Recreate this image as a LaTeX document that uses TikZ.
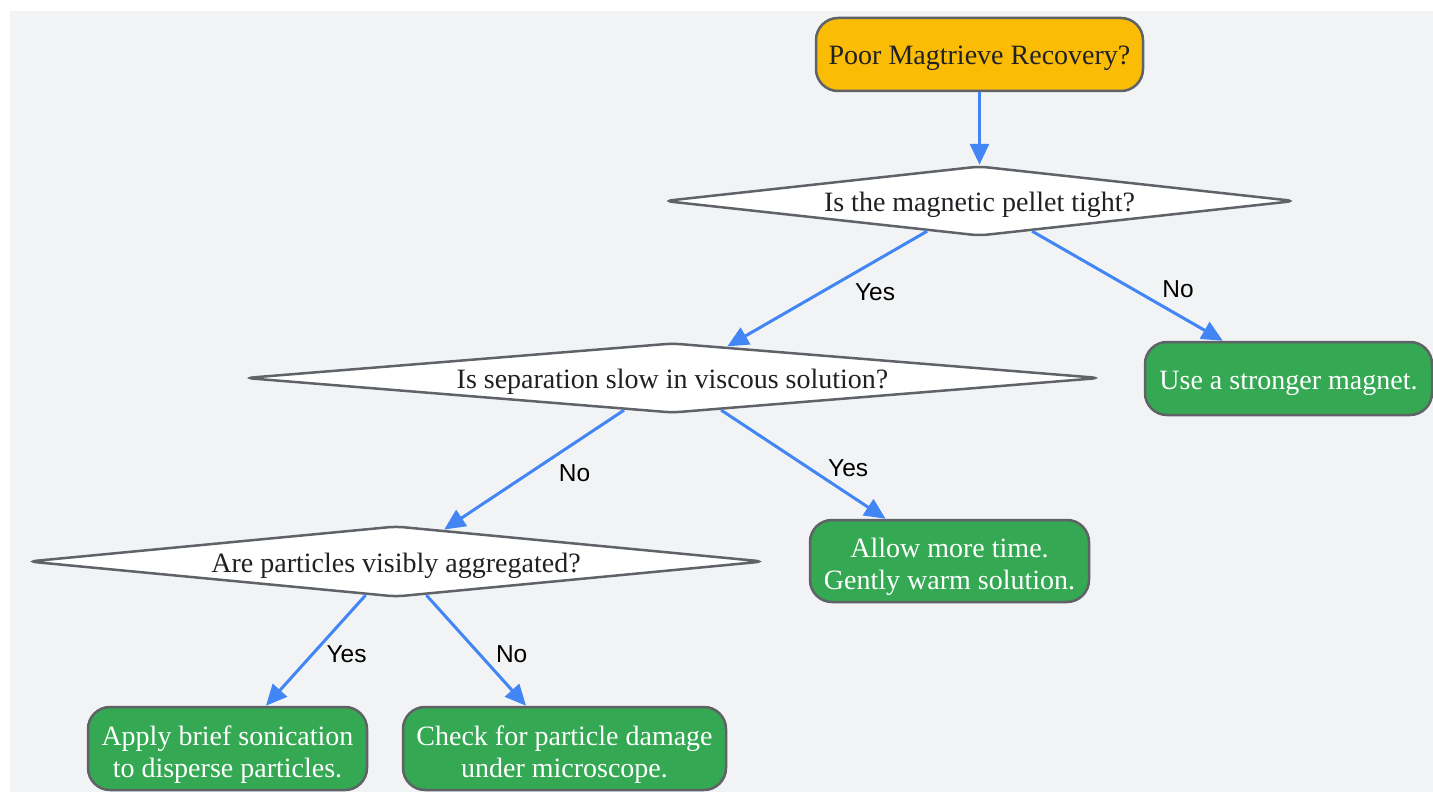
\documentclass[tikz,border=0pt]{standalone}
\usepackage{fontspec}
\setmainfont{Liberation Serif}
\setsansfont{Liberation Sans}
\usepackage{xcolor}
\usepackage{tikz}
\usetikzlibrary{arrows.meta}
\usetikzlibrary{shapes,arrows}
\definecolor{bggray}{HTML}{F1F3F4}
\definecolor{startyellow}{HTML}{FBBC05}
\definecolor{okgreen}{HTML}{34A853}
\definecolor{edgeblue}{HTML}{4285F4}
\definecolor{bordergray}{HTML}{5F6368}
\definecolor{textdark}{HTML}{202124}
\tikzstyle{oneline} = [text height=21pt, text depth=0pt]
\tikzstyle{twoline} = [text height=57pt, text depth=0pt]
\tikzstyle{startbox} = [rectangle, rounded corners=22pt, draw=bordergray, line width=2.5pt, fill=startyellow, text=textdark, font=\fontsize{28}{32}\selectfont, minimum height=73pt, oneline]
\tikzstyle{question} = [diamond, rounded corners=8pt, draw=bordergray, line width=2.5pt, fill=white, text=textdark, font=\fontsize{28}{32}\selectfont, inner sep=0pt, minimum height=70pt, oneline]
\tikzstyle{fixbox} = [rectangle, rounded corners=22pt, draw=bordergray, line width=2.5pt, fill=okgreen, text=white, font=\fontsize{28}{32}\selectfont, align=center]
\tikzstyle{flowarrow} = [line width=3pt, draw=edgeblue, -{Triangle[length=21pt,width=19pt]}]
\tikzstyle{answer} = [midway, text=black, font=\sffamily\fontsize{24.5}{28}\selectfont, text height=17pt, text depth=5pt, yshift=-6pt]

\begin{document}
\begin{tikzpicture}[x=1pt, y=-1pt]
    \useasboundingbox (0,0) rectangle (1433,792);
    \fill[bggray] (10,11) rectangle (1433,792);

    \node[startbox, minimum width=327pt] (poor) at (979.5,54.5) {Poor Magtrieve Recovery?};
    \node[question, aspect=8.9, minimum width=631pt] (pellet) at (979.5,201) {Is the magnetic pellet tight?};
    \node[question, aspect=12.1, minimum width=855pt] (viscous) at (672.5,378) {Is separation slow in viscous solution?};
    \node[question, aspect=10.25, minimum width=736pt, minimum height=71pt] (aggregated) at (396,561.5) {Are particles visibly aggregated?};

    % the fixes
    \node[fixbox, oneline, minimum width=287pt, minimum height=73pt] (magnet) at (1288.5,378.5) {Use a stronger magnet.};
    \node[fixbox, twoline, minimum width=279pt, minimum height=82pt] (warm) at (949.5,561) {Allow more time.\\Gently warm solution.};
    \node[fixbox, twoline, minimum width=279pt, minimum height=83pt] (sonicate) at (227.5,748.5) {Apply brief sonication\\to disperse particles.};
    \node[fixbox, twoline, minimum width=323pt, minimum height=83pt] (damage) at (564.5,748.5) {Check for particle damage\\under microscope.};

    \draw[flowarrow] (poor) -- (pellet);
    \draw[flowarrow] (pellet) -- node[answer, right=23pt] {Yes} (viscous);
    \draw[flowarrow] (pellet) -- node[answer, right=30pt] {No} (magnet);
    \draw[flowarrow] (viscous) -- node[answer, right=20pt] {No} (aggregated);
    \draw[flowarrow] (viscous) -- node[answer, right=20pt] {Yes} (warm);
    \draw[flowarrow] (aggregated) -- node[answer, right=6pt] {Yes} (sonicate);
    \draw[flowarrow] (aggregated) -- node[answer, right=15pt] {No} (damage);
\end{tikzpicture}
\end{document}
